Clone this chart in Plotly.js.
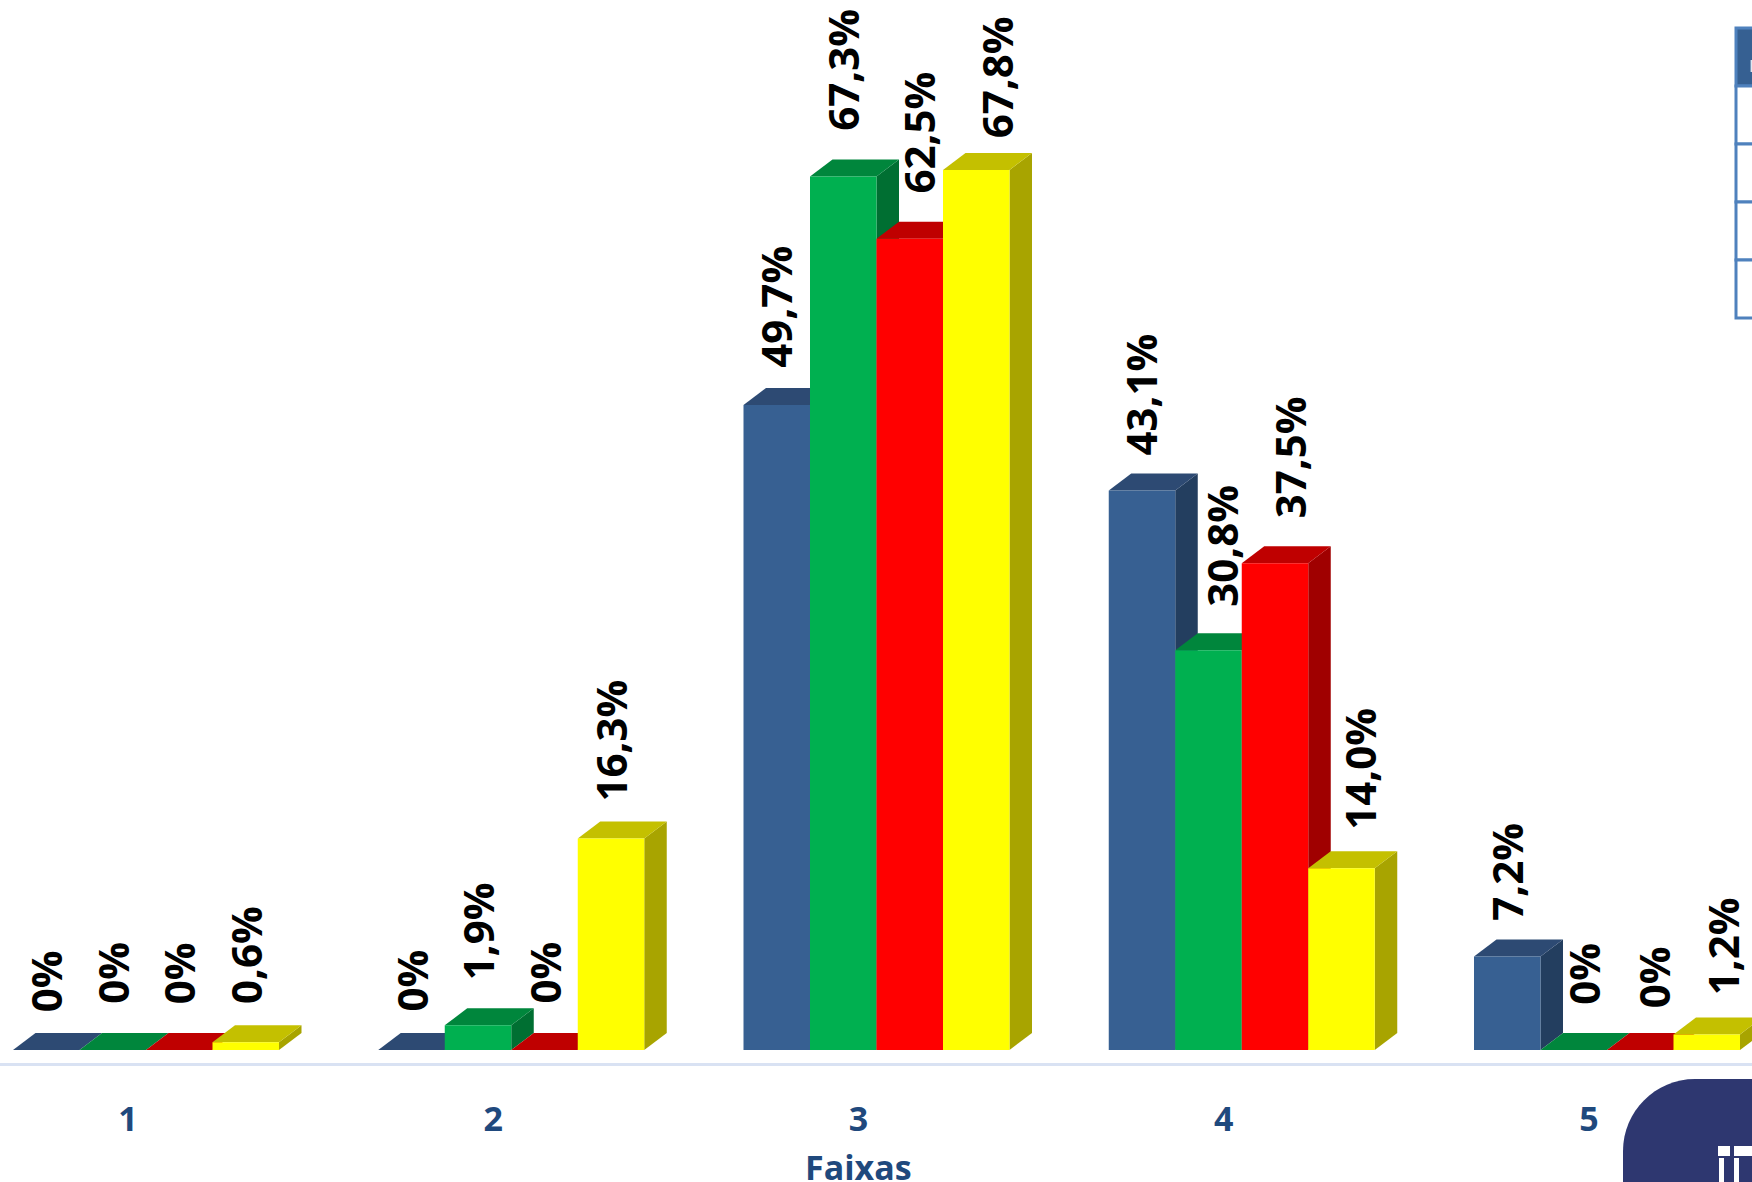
<!DOCTYPE html>
<html>
<head>
<meta charset="utf-8">
<script src="https://cdn.plot.ly/plotly-3.0.1.min.js"></script>
<style>html,body{margin:0;padding:0;background:#fff}#chart{width:1752px;height:1182px}</style>
</head>
<body>
<div id="chart"></div>
<script>
// ---- data ----
const faixas = [1, 2, 3, 4, 5];
const serieAzul = [0, 0, 49.7, 43.1, 7.2];
const serieVerde = [0, 1.9, 67.3, 30.8, 0];
const serieVermelha = [0, 0, 62.5, 37.5, 0];
const serieAmarela = [0.6, 16.3, 67.8, 14.0, 1.2];
const eixoTitulo = 'Faixas';

// ---- styles ----
const series = [
  {values: serieAzul, front: '#376092', top: '#2d4a73', side: '#233e5f',
   gap: [37, 37, 36, 34, 35], shift: [-1, -1, -1, -1, -1]},
  {values: serieVerde, front: '#00b050', top: '#00863c', side: '#006f32',
   gap: [45, 44, 45, 42, 44], shift: [-1, -1, -1, 13, 9]},
  {values: serieVermelha, front: '#ff0000', top: '#bf0000', side: '#a00000',
   gap: [45, 45, 44, 44, 41], shift: [-1, -1, 9, 14, 13]},
  {values: serieAmarela, front: '#ffff00', top: '#c4c000', side: '#a8a400',
   gap: [37, 36, 31, 37, 38], shift: [-1, -1, 21, 18, 16]}
];
const W = 1752, H = 1182, AXIS_PX = 1063;
const PX_PER_X = 365.25, PX_PER_PCT = 12.98, TICK1_PX = 128, BASE_PX = 1050;
const barW = 66.5 / PX_PER_X, firstOffset = (13 - TICK1_PX) / PX_PER_X;
const depthX = 22.5 / PX_PER_X, depthY = 17 / PX_PER_PCT;
const labelFont = {family: '"Open Sans", sans-serif', size: 42, color: '#000000', weight: 700};
const axisFont = {family: '"Open Sans", sans-serif', size: 34, color: '#1f497d', weight: 700};

const fmt = v => v === 0 ? '0%' : v.toFixed(1).replace('.', ',') + '%';
const px = x => x / W, py = y => 1 - y / H;

const traces = [], shapes = [], annotations = [];
series.forEach((s, i) => {
  const off = firstOffset + i * barW;
  traces.push({type: 'bar', x: faixas, y: s.values, width: barW, offset: off,
    marker: {color: s.front, line: {width: 0}}, hoverinfo: 'x+y', showlegend: false});
  faixas.forEach((f, k) => {
    const v = s.values[k], x0 = f + off, x1 = x0 + barW;
    shapes.push({type: 'path', xref: 'x', yref: 'y', layer: 'below', line: {width: 0}, fillcolor: s.side,
      path: `M${x1},0 L${x1},${v} L${x1 + depthX},${v + depthY} L${x1 + depthX},${depthY} Z`});
    shapes.push({type: 'path', xref: 'x', yref: 'y', layer: 'below', line: {width: 0}, fillcolor: s.top,
      path: `M${x0},${v} L${x1},${v} L${x1 + depthX},${v + depthY} L${x0 + depthX},${v + depthY} Z`});
    annotations.push({x: x0 + barW / 2, y: v, xref: 'x', yref: 'y', text: fmt(v), textangle: -90,
      showarrow: false, xanchor: 'center', yanchor: 'bottom', xshift: s.shift[k], yshift: s.gap[k],
      font: labelFont, borderpad: 0});
  });
});

// axis title, centred under the label block
annotations.push({xref: 'paper', yref: 'paper', x: px(858), y: py(1167), text: eixoTitulo, showarrow: false,
  xanchor: 'center', yanchor: 'middle', font: axisFont, borderpad: 0});

// table corner at the right edge
const border = '#4f81bd';
shapes.push({type: 'rect', xref: 'paper', yref: 'paper', x0: px(1736), x1: px(1760), y0: py(86), y1: py(28),
  fillcolor: '#366092', line: {color: border, width: 3}});
[86, 144, 202, 260].forEach(y => shapes.push({type: 'rect', xref: 'paper', yref: 'paper',
  x0: px(1736), x1: px(1760), y0: py(y + 58), y1: py(y), fillcolor: '#ffffff', line: {color: border, width: 3}}));
shapes.push({type: 'rect', xref: 'paper', yref: 'paper', x0: px(1750.6), x1: px(1752), y0: py(72), y1: py(60),
  fillcolor: '#dfe6f0', line: {width: 0}});

// logo corner at the bottom right
const L = 1623, T = 1079, R = 72;
shapes.push({type: 'path', xref: 'paper', yref: 'paper', fillcolor: '#2e3770', line: {width: 0},
  path: `M${px(L)},${py(1190)} L${px(L)},${py(T + R)} C${px(L)},${py(T + R * 0.45)} ${px(L + R * 0.45)},${py(T)} ${px(L + R)},${py(T)} L${px(1760)},${py(T)} L${px(1760)},${py(1190)} Z`});
[[1718, 1730, 1146, 1156], [1734, 1752, 1146, 1156], [1719, 1724, 1158, 1182], [1734, 1739, 1158, 1182]].forEach(r =>
  shapes.push({type: 'rect', xref: 'paper', yref: 'paper', x0: px(r[0]), x1: px(r[1]), y0: py(r[3]), y1: py(r[2]),
    fillcolor: '#ffffff', line: {width: 0}}));

const layout = {
  width: W, height: H, margin: {l: 0, r: 0, t: 0, b: 0, pad: 0}, autosize: false,
  paper_bgcolor: '#ffffff', plot_bgcolor: 'rgba(0,0,0,0)', barmode: 'overlay', showlegend: false,
  xaxis: {domain: [0, 1], range: [1 - TICK1_PX / PX_PER_X, 1 + (W - TICK1_PX) / PX_PER_X],
    tickmode: 'array', tickvals: faixas, ticktext: faixas.map(String), ticks: '', tickfont: axisFont,
    ticklabelstandoff: 24, showgrid: false, zeroline: false, showline: true, linecolor: '#d9e2f3', linewidth: 3,
    automargin: false, fixedrange: true},
  yaxis: {domain: [(H - AXIS_PX) / H, 1], range: [-(AXIS_PX - BASE_PX) / PX_PER_PCT, BASE_PX / PX_PER_PCT],
    visible: false, showgrid: false, zeroline: false, fixedrange: true},
  shapes, annotations
};
Plotly.newPlot('chart', traces, layout, {displayModeBar: false, staticPlot: true});
</script>
</body>
</html>
